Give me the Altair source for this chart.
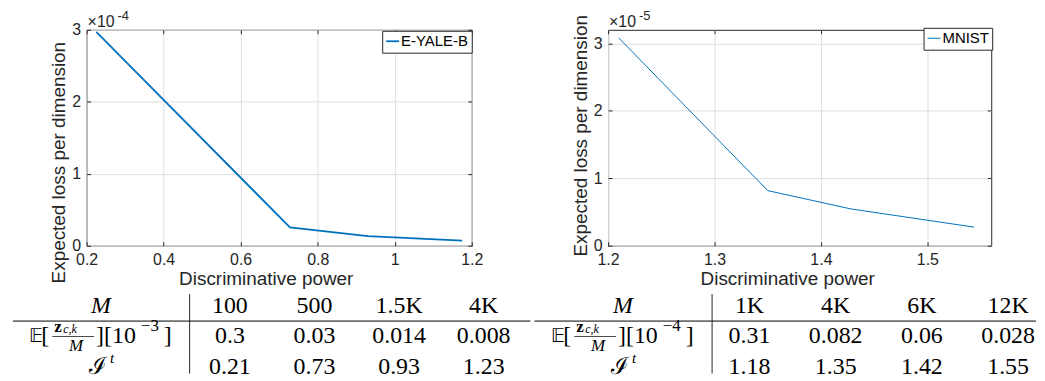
import altair as alt
import pandas as pd

# ---------------- data ----------------
yale_power = [0.225, 0.728, 0.93, 1.175]
yale_loss = [2.97e-4, 0.255e-4, 0.135e-4, 0.072e-4]
mnist_power = [1.21, 1.35, 1.428, 1.544]
mnist_loss = [3.08e-5, 0.817e-5, 0.546e-5, 0.276e-5]

yale_M = ["100", "500", "1.5K", "4K"]
yale_E = ["0.3", "0.03", "0.014", "0.008"]
yale_I = ["0.21", "0.73", "0.93", "1.23"]
mnist_M = ["1K", "4K", "6K", "12K"]
mnist_E = ["0.31", "0.082", "0.06", "0.028"]
mnist_I = ["1.18", "1.35", "1.42", "1.55"]

x_title = "Discriminative power"
y_title = "Expected loss per dimension"
yale_name = "E-YALE-B"
mnist_name = "MNIST"
yale_exp = "-4"
mnist_exp = "-5"
yale_tab_exp = "−3"
mnist_tab_exp = "−4"

row_label_M = "M"
e_parts = ["𝔼", "[", "z", "c,k", "M", "][10", "]"]
i_parts = ["ℐ", "t"]

# ---------------- styles ----------------
SANS = "Liberation Sans"
SERIF = "Liberation Serif"
INK = "#262626"
BLUE = "#0072BD"
GRID = "#dfdfdf"
TFS = 24  # table font size


def tick_axis(orient, values):
    return alt.Axis(orient=orient, values=values, labels=False, title=None,
                    grid=False, domain=False, ticks=True, tickSize=4,
                    tickColor=INK, tickWidth=1, offset=-4)


def plot(power, loss, name, xdom, xticks, ydom, yticks, factor, exp_txt,
         line_w, leg_x, leg_y, title_y, width):
    df = pd.DataFrame({"power": power, "loss": loss, "series": name})
    xs = alt.Scale(domain=xdom, nice=False, zero=False)
    ys = alt.Scale(domain=ydom, nice=False, zero=False)
    line = alt.Chart(df).mark_line(strokeWidth=line_w).encode(
        x=alt.X("power:Q", scale=xs,
                axis=alt.Axis(orient="bottom", values=xticks, format="~g", title=x_title,
                              grid=True, gridColor=GRID, ticks=False, tickSize=0,
                              domain=False, labelFont=SANS, labelFontSize=16,
                              labelColor=INK, labelPadding=6, labelFlush=False,
                              titleFont=SANS, titleFontSize=19,
                              titleFontWeight="normal", titleColor=INK,
                              titlePadding=2, titleX=180)),
        y=alt.Y("loss:Q", scale=ys,
                axis=alt.Axis(orient="left", values=yticks,
                              labelExpr=f"round(datum.value*{factor})",
                              title=y_title, grid=True, gridColor=GRID,
                              ticks=False, tickSize=0, domain=False,
                              labelFont=SANS, labelFontSize=16, labelColor=INK,
                              labelPadding=6, labelFlush=False,
                              titleFont=SANS, titleFontSize=19,
                              titleFontWeight="normal", titleColor=INK,
                              titlePadding=3, titleY=title_y)),
        color=alt.Color("series:N",
                        scale=alt.Scale(domain=[name], range=[BLUE]),
                        legend=alt.Legend(title=None, orient="none",
                                          legendX=leg_x, legendY=leg_y,
                                          symbolType="stroke",
                                          symbolSize=169, symbolStrokeWidth=line_w,
                                          labelFont=SANS, labelFontSize=15,
                                          labelColor="black", labelOffset=1,
                                          strokeColor=INK, fillColor="white",
                                          padding=3, cornerRadius=0)),
    )
    ticks_tr = alt.Chart(df).mark_line(opacity=0).encode(
        x=alt.X("power:Q", scale=xs, axis=tick_axis("top", xticks)),
        y=alt.Y("loss:Q", scale=ys, axis=tick_axis("right", yticks)))
    ticks_bl = alt.Chart(df).mark_line(opacity=0).encode(
        x=alt.X("power:Q", scale=xs, axis=tick_axis("bottom", xticks)),
        y=alt.Y("loss:Q", scale=ys, axis=tick_axis("left", yticks)))
    mult = alt.Chart(pd.DataFrame({"t": ["×10"]})).mark_text(
        align="left", baseline="alphabetic", font=SANS, fontSize=16, color=INK
    ).encode(text="t:N", x=alt.value(1), y=alt.value(-3))
    expo = alt.Chart(pd.DataFrame({"t": [exp_txt]})).mark_text(
        align="left", baseline="alphabetic", font=SANS, fontSize=13, color=INK
    ).encode(text="t:N", x=alt.value(31), y=alt.value(-10))
    return alt.layer(line, ticks_tr, ticks_bl, mult, expo).resolve_axis(
        x="independent", y="independent").properties(
        width=width, height=217,
        view=alt.ViewBackground(stroke=INK, strokeWidth=1))


def spacer(w, h):
    return alt.Chart(pd.DataFrame({"t": [""]})).mark_text().encode(
        text="t:N").properties(width=w, height=h,
                               view=alt.ViewBackground(stroke="transparent"))


TAB_H = 80
ROWSCALE = alt.Scale(domain=[-0.4, 2.2], nice=False, zero=False, reverse=True)


def value_table(cols, E, I, width, xdom):
    recs = []
    for k, (c, e, i) in enumerate(zip(cols, E, I)):
        recs += [{"ci": k, "row": 0, "txt": c},
                 {"ci": k, "row": 1, "txt": e},
                 {"ci": k, "row": 2, "txt": i}]
    df = pd.DataFrame(recs)
    ax = alt.Axis(domain=True, domainColor=INK, domainWidth=1, ticks=False,
                  labels=False, grid=False, title=None)
    X = alt.X("ci:Q", scale=alt.Scale(domain=xdom, nice=False, zero=False), axis=None)
    text = alt.Chart(df).mark_text(font=SERIF, fontSize=TFS, color="black",
                                   baseline="middle").encode(
        x=X, y=alt.Y("row:Q", scale=ROWSCALE, axis=ax), text="txt:N")
    rule = alt.Chart(pd.DataFrame({"r": [0]})).mark_rule(
        color="black", strokeWidth=1).encode(
        y=alt.YDatum(0.5, type="quantitative", scale=ROWSCALE, axis=ax))
    return alt.layer(text, rule).properties(
        width=width, height=TAB_H, view=alt.ViewBackground(stroke="transparent"))


lab_df = pd.DataFrame({"col": ["lab"]})
LX = alt.X("col:N", scale=alt.Scale(type="point", domain=["lab"], padding=0.5), axis=None)


def piece(txt, row, dx=0, dy=0, size=TFS, style="normal", weight="normal",
          align="center", font=SERIF):
    return alt.Chart(lab_df).mark_text(
        text=txt, dx=dx, dy=dy, fontSize=size, fontStyle=style,
        fontWeight=weight, align=align, baseline="middle", font=font,
        color="black").encode(
        x=LX, y=alt.YDatum(row, type="quantitative", scale=ROWSCALE, axis=None))


def label_table(width, exp_txt):
    layers = [
        piece(row_label_M, 0, style="italic"),
        piece(e_parts[0], 1, dx=-58, size=19, align="right"),
        piece(e_parts[1], 1, dx=-52, align="right"),
        piece(e_parts[2], 1, dx=-47, dy=-9, size=17, weight="bold", align="left"),
        piece(e_parts[3], 1, dx=-38, dy=-7, size=12, style="italic", align="left"),
        alt.Chart(lab_df).mark_tick(orient="horizontal", size=42, thickness=1,
                                    xOffset=-28, color="black").encode(
            x=LX, y=alt.YDatum(1, type="quantitative", scale=ROWSCALE, axis=None)),
        piece(e_parts[4], 1, dx=-25, dy=10, size=17, style="italic"),
        piece(e_parts[5], 1, dx=-5, align="left"),
        piece(exp_txt, 1, dx=40, dy=-10, size=17, align="left"),
        piece(e_parts[6], 1, dx=63, align="left"),
        piece(i_parts[0], 2, dx=-3),
        piece(i_parts[1], 2, dx=9, dy=-9, size=15, style="italic", align="left"),
        alt.Chart(pd.DataFrame({"r": [0]})).mark_rule(color="black", strokeWidth=1).encode(
            y=alt.YDatum(0.5, type="quantitative", scale=ROWSCALE, axis=None)),
    ]
    return alt.layer(*layers).properties(
        width=width, height=TAB_H, view=alt.ViewBackground(stroke="transparent"))


plot_l = plot(yale_power, yale_loss, yale_name, [0.2, 1.2],
              [0.2, 0.4, 0.6, 0.8, 1.0, 1.2], [0, 3e-4], [0, 1e-4, 2e-4, 3e-4],
              1e4, yale_exp, 1.8, 297, 1, 133, 387)
plot_r = plot(mnist_power, mnist_loss, mnist_name, [1.2, 1.56],
              [1.2, 1.3, 1.4, 1.5], [0, 3.2e-5], [0, 1e-5, 2e-5, 3e-5],
              1e5, mnist_exp, 1.0, 317, -2, 106, 385)

row1 = alt.hconcat(spacer(74, 217), plot_l, spacer(137, 217), plot_r,
                   spacing=0, bounds="flush").resolve_scale(color="independent")
row2 = alt.hconcat(label_table(177, yale_tab_exp),
                   value_table(yale_M, yale_E, yale_I, 343, [-0.482, 3.553]),
                   spacer(4, TAB_H),
                   label_table(178, mnist_tab_exp),
                   value_table(mnist_M, mnist_E, mnist_I, 326, [-0.44, 3.324]),
                   spacing=0, bounds="flush")

chart = alt.vconcat(row1, row2, spacing=3).resolve_scale(
    color="independent").properties(
    padding={"left": 4, "top": 0, "right": 0, "bottom": 0},
    background="white",
).configure_view(stroke="transparent")

chart.save("out.html", embed_options={"renderer": "svg", "actions": False})
